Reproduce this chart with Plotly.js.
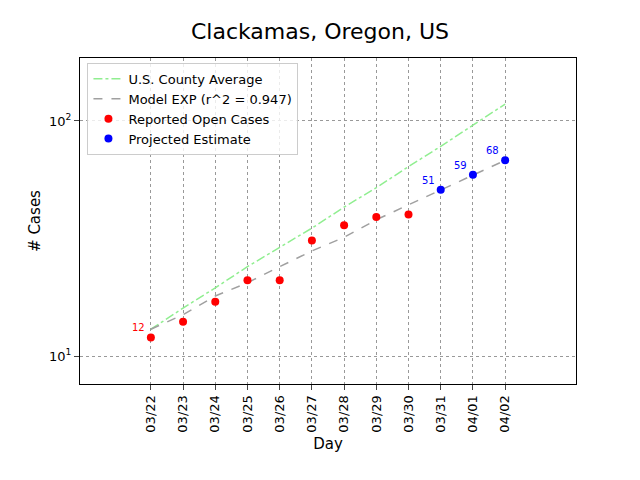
<!DOCTYPE html>
<html><head><script src="https://cdn.plot.ly/plotly-3.0.1.min.js"></script></head>
<body style="margin:0"><div id="c" style="width:640px;height:480px"></div>
<script>
const days=["03/22","03/23","03/24","03/25","03/26","03/27","03/28","03/29","03/30","03/31","04/01","04/02"];
const reported=[12,14,17,21,21,31,36,39,40];
const projected=[51,59,68];
const model=[13,15,18,20.5,24,28,32,38,44,51,59,68];
const county=[13,16,19.5,24,29,35,43,52,64,78,96,118];
const idx=days.map((d,i)=>i);
const traces=[
 {x:idx,y:county,mode:'lines',name:'U.S. County Average',line:{color:'#90ee90',dash:'dashdot',width:1.5}},
 {x:idx,y:model,mode:'lines',name:'Model EXP (r^2 = 0.947)',line:{color:'#a0a0a0',dash:'dash',width:1.5}},
 {x:idx.slice(0,9),y:reported,mode:'markers',name:'Reported Open Cases',marker:{color:'red',size:8}},
 {x:idx.slice(9),y:projected,mode:'markers',name:'Projected Estimate',marker:{color:'blue',size:8}}
];
const ann=[{x:0,y:12,t:'12',c:'red'}].concat(projected.map((v,i)=>({x:9+i,y:v,t:String(v),c:'blue'})))
 .map(a=>({x:a.x,y:Math.log10(a.y),text:a.t,showarrow:false,xanchor:'right',yanchor:'bottom',xshift:-4,yshift:2,font:{size:10,color:a.c}}));
Plotly.newPlot('c',traces,{
 width:640,height:480,margin:{l:80,r:64,t:58,b:96},
 paper_bgcolor:'white',plot_bgcolor:'white',
 font:{family:'DejaVu Sans',size:13,color:'black'},
 title:{text:'Clackamas, Oregon, US',font:{size:22},x:0.5,y:0.935,yanchor:'middle'},
 xaxis:{range:[-2.2,13.2],tickvals:idx,ticktext:days,tickangle:-90,showgrid:true,gridcolor:'#999',gridwidth:0.6,griddash:'dot',
  zeroline:false,showline:true,mirror:true,linecolor:'black',ticks:'outside',title:{text:'Day',font:{size:15}}},
 yaxis:{type:'log',range:[0.881,2.268],tickvals:[10,100],ticktext:['10<sup>1</sup>','10<sup>2</sup>'],showgrid:true,gridcolor:'#999',gridwidth:0.6,griddash:'dot',
  zeroline:false,showline:true,mirror:true,linecolor:'black',ticks:'outside',title:{text:'# Cases',font:{size:15}}},
 legend:{x:0.015,y:0.985,bgcolor:'rgba(255,255,255,0.8)',bordercolor:'#ccc',borderwidth:1,font:{size:13},tracegroupgap:0},
 annotations:ann,showlegend:true
},{displayModeBar:false});
</script></body></html>
